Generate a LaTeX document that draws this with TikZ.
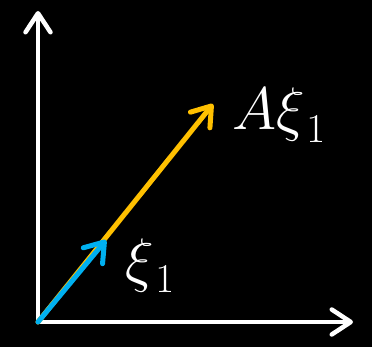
\RequirePackage{fix-cm}
\documentclass[tikz,border=0pt]{standalone}
\usetikzlibrary{arrows.meta}
\DeclareMathSizes{60}{60}{41}{32}
\definecolor{vgold}{HTML}{FFC000}
\definecolor{vblue}{HTML}{00B0F0}
\newcommand{\subone}{_{\mkern2mu\lower4pt\hbox{$\scriptstyle 1$}}}
\tikzset{
  axisline/.style={draw=white, line width=4.5pt, line cap=round,
    -{Straight Barb[length=19pt,width=25pt,round]}},
  vecline/.style={line width=5pt, line cap=round,
    -{Straight Barb[length=18pt,width=25pt,round]}},
  lbl/.style={text=white, inner sep=0pt, anchor=base west, font=\fontsize{60}{64}\selectfont}
}
\begin{document}
\begin{tikzpicture}[x=1pt,y=-1pt]
  \fill[black] (0,0) rectangle (372,347);
  \useasboundingbox (0,0) rectangle (372,347);
  \coordinate (o) at (38,322);
  \coordinate (ytop) at (38,11);
  \coordinate (xend) at (353,322);
  \coordinate (av) at (213,104);
  \coordinate (v) at (106,240);
  \draw[axisline] (o) -- (ytop);
  \draw[axisline] (o) -- (xend);
  \draw[vecline, draw=vgold] (o) -- (av);
  \draw[vecline, draw=vblue] (o) -- (v);
  \node[lbl] (lav) at (232,130) {$A\xi\subone$};
  \node[lbl] (lv) at (125,280) {$\xi\subone$};
\end{tikzpicture}
\end{document}
